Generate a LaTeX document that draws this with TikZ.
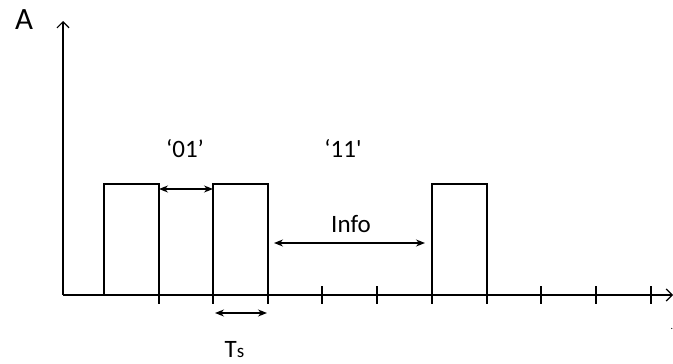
\documentclass[tikz,border=0pt]{standalone}
\usepackage{fontspec}
\setmainfont{Carlito}
\usetikzlibrary{arrows.meta}
\begin{document}
\begin{tikzpicture}[x=1pt,y=-1pt,
  line width=1.4pt,
  axis/.style={-{Straight Barb[length=6pt,width=12pt,line width=1.2pt]}},
  dim/.style={{Stealth[length=9pt,width=7pt]}-{Stealth[length=9pt,width=7pt]}, line width=1.3pt},
  lbl/.style={inner sep=0pt, font=\fontsize{25}{29}\selectfont},
  pulse/.style={line width=1.5pt}]
\useasboundingbox (0,0) rectangle (673,364);

% axes
\coordinate (o) at (63,295);
\coordinate (ytop) at (63,21);
\coordinate (xend) at (673,295);
\draw[axis] (o) -- (ytop);
\draw[axis] (o) -- (xend);

% tick marks along the time axis
\foreach \i/\t in {1/159,2/213,3/268,4/322,5/377,6/432,7/487,8/541,9/596,10/651}{
  \coordinate (t\i a) at (\t,286);
  \coordinate (t\i b) at (\t,304);
  \draw (t\i a) -- (t\i b);
}

% pulses
\coordinate (p1a) at (104,295); \coordinate (p1b) at (104,184);
\coordinate (p1c) at (159,184); \coordinate (p1d) at (159,295);
\coordinate (p2a) at (213,295); \coordinate (p2b) at (213,184);
\coordinate (p2c) at (268,184); \coordinate (p2d) at (268,295);
\coordinate (p3a) at (432,295); \coordinate (p3b) at (432,184);
\coordinate (p3c) at (487,184); \coordinate (p3d) at (487,295);
\draw[pulse] (p1a) -- (p1b) -- (p1c) -- (p1d);
\draw[pulse] (p2a) -- (p2b) -- (p2c) -- (p2d);
\draw[pulse] (p3a) -- (p3b) -- (p3c) -- (p3d);

% dimension arrows
\coordinate (g1) at (159,189); \coordinate (g2) at (213,189);
\draw[dim] (g1) -- (g2);
\coordinate (i1) at (274,243); \coordinate (i2) at (425,243);
\draw[dim] (i1) -- (i2);
\coordinate (s1) at (215,313); \coordinate (s2) at (267,313);
\draw[dim] (s1) -- (s2);

% labels
\node[lbl, font=\fontsize{31}{36}\selectfont] (A) at (24,20) {A};
\node[lbl, anchor=base] (c01) at (185,157) {‘01’};
\node[lbl, anchor=base] (c11) at (343,157) {‘11\XeTeXglyph\XeTeXcharglyph"0027};
\node[lbl, anchor=base] (info) at (351,232) {Info};
\node[lbl, anchor=base west] (ts) at (224,357) {T{\fontsize{19}{21}\selectfont s}};
\node[inner sep=0pt, font=\fontsize{10}{12}\selectfont] (dot) at (672,329) {.};
\end{tikzpicture}
\end{document}
